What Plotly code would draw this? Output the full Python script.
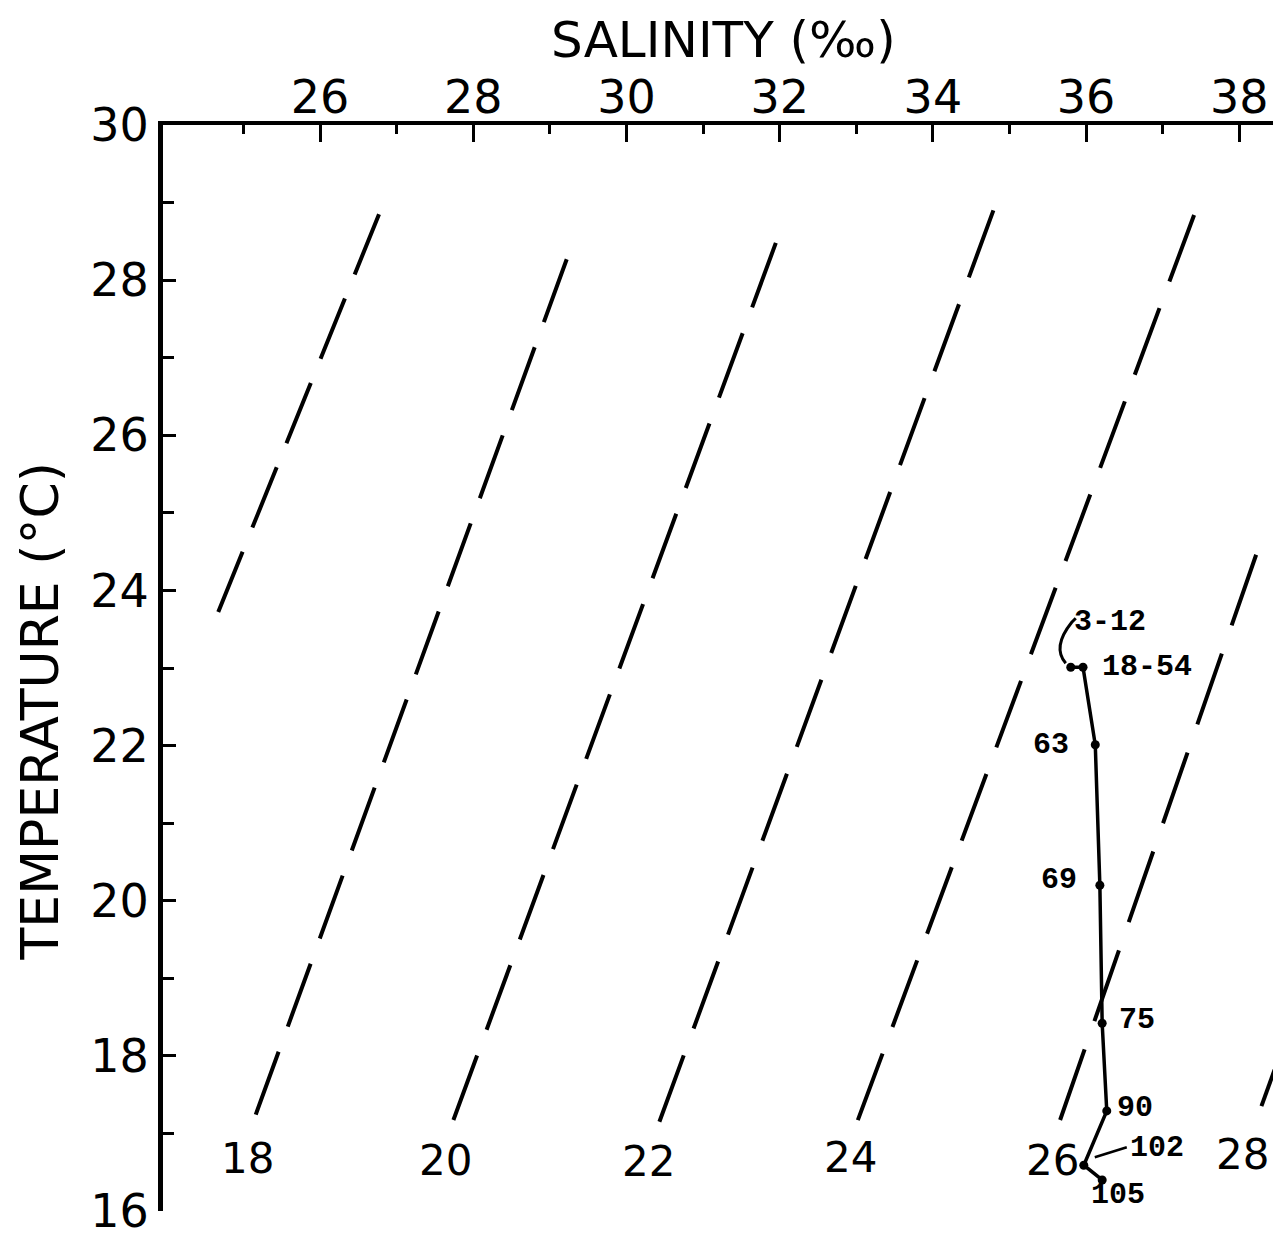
import math
import plotly.graph_objects as go

# ---- data ----
# sigma-t isolines (dashed): end points (salinity, temperature)
sigma_vals = [16, 18, 20, 22, 24, 26, 28]
sigma_s_top = [26.77, 29.22, 31.95, 34.79, 37.41, 38.22, 38.60]
sigma_t_top = [28.85, 28.27, 28.48, 28.90, 28.84, 24.46, 18.20]
sigma_s_bot = [24.67, 25.16, 27.74, 30.43, 33.02, 35.66, 38.27]
sigma_t_bot = [23.72, 17.24, 17.17, 17.15, 17.17, 17.17, 17.30]
sigma_labelled = [False, True, True, True, True, True, True]

# T-S station profile
depth_labels = ["3-12", "18-54", "63", "69", "75", "90", "102", "105"]
salinity = [35.80, 35.96, 36.12, 36.18, 36.21, 36.27, 35.97, 36.21]
temperature = [23.01, 23.01, 22.01, 20.20, 18.42, 17.29, 16.59, 16.40]

x_major = [26, 28, 30, 32, 34, 36, 38]
x_minor = [25, 27, 29, 31, 33, 35, 37]
y_major = [16, 18, 20, 22, 24, 26, 28, 30]
y_minor = [17, 19, 21, 23, 25, 27, 29]

# ---- styling ----
W, H = 1273, 1234
ML, MR, MT, MB = 163, 0, 125, 23
XR = [23.95, 38.44]
YR = [16, 30]
SANS = "DejaVu Sans"
MONO = "Liberation Mono"
label_offsets = {  # pixel offsets of depth labels from their points
    "3-12": (39, 45), "18-54": (64, 0), "63": (-44, 0), "69": (-41, 5),
    "75": (35, 3), "90": (28, 3), "102": (73, 17), "105": (16, -15),
}
sigma_label_shift = {16: (0, 0), 18: (-8, -44), 20: (-8, -40), 22: (-11, -40),
                     24: (-7, -37), 26: (-8, -40), 28: (-17, -44)}

px_x = (W - ML - MR) / (XR[1] - XR[0])
px_y = (H - MT - MB) / (YR[1] - YR[0])


def dash_for(s0, t0, s1, t1, dash=70.0, gap=28.0):
    """dash pattern so that the line starts and ends with a dash"""
    L = math.hypot((s1 - s0) * px_x, (t1 - t0) * px_y)
    n = max(1, round((L - dash) / (dash + gap)))
    k = L / (n * (dash + gap) + dash)
    return f"{dash * k:.1f}px,{gap * k:.1f}px"


fig = go.Figure()

for i, sv in enumerate(sigma_vals):
    if sv == 28:
        dstyle = "70px,28px"
    else:
        dstyle = dash_for(sigma_s_top[i], sigma_t_top[i], sigma_s_bot[i], sigma_t_bot[i])
    fig.add_trace(go.Scatter(
        x=[sigma_s_top[i], sigma_s_bot[i]], y=[sigma_t_top[i], sigma_t_bot[i]],
        mode="lines", line=dict(color="black", width=4, dash=dstyle),
        hoverinfo="skip", showlegend=False))
    if sigma_labelled[i]:
        dx, dy = sigma_label_shift[sv]
        fig.add_annotation(x=sigma_s_bot[i], y=sigma_t_bot[i], text=str(sv),
                           showarrow=False, xshift=dx, yshift=dy,
                           xanchor="center", yanchor="middle",
                           font=dict(family=SANS, size=42, color="black"))

fig.add_trace(go.Scatter(
    x=salinity, y=temperature, mode="lines+markers",
    line=dict(color="black", width=3.5), marker=dict(color="black", size=9),
    showlegend=False))

for lab, s, t in zip(depth_labels, salinity, temperature):
    dx, dy = label_offsets[lab]
    fig.add_annotation(x=s, y=t, text=lab, showarrow=False, xshift=dx, yshift=dy,
                       xanchor="center", yanchor="middle",
                       font=dict(family=MONO, size=30, color="black", weight="bold"))

# arc linking "3-12" label to its point
i312 = depth_labels.index("3-12")
fig.add_shape(type="path", xref="x", yref="y", xsizemode="pixel", ysizemode="pixel",
              xanchor=salinity[i312], yanchor=temperature[i312],
              path="M -5,4 Q -19,20 1,45 L 5,49",
              line=dict(color="black", width=3))
# leader for "102"
i102 = depth_labels.index("102")
fig.add_shape(type="line", xref="x", yref="y", xsizemode="pixel", ysizemode="pixel",
              xanchor=salinity[i102], yanchor=temperature[i102],
              x0=11, y0=8, x1=43, y1=18, line=dict(color="black", width=2.5))

# axis titles
fig.add_annotation(xref="paper", yref="paper", x=0.5054, y=1, yshift=85,
                   xanchor="center", yanchor="middle",
                   text="SALINITY (‰)", showarrow=False,
                   font=dict(family=SANS, size=50, color="black"))
fig.add_annotation(xref="paper", yref="paper", x=0, y=0.46, xshift=-123,
                   xanchor="center", yanchor="middle",
                   text="TEMPERATURE (°C)", showarrow=False, textangle=-90,
                   font=dict(family=SANS, size=52, color="black"))

fig.update_layout(
    width=W, height=H,
    margin=dict(l=ML, r=MR, t=MT, b=MB, autoexpand=False),
    paper_bgcolor="white", plot_bgcolor="white", showlegend=False,
    xaxis=dict(side="top", range=XR, tickvals=x_major, automargin=False,
               ticks="inside", ticklen=17, tickwidth=3, tickcolor="black",
               showline=True, linewidth=4, linecolor="black",
               showgrid=False, zeroline=False, ticklabelstandoff=-10,
               ticklabeloverflow="allow",
               tickfont=dict(family=SANS, size=46, color="black"),
               minor=dict(tickvals=x_minor, ticks="inside", ticklen=9,
                          tickwidth=3, tickcolor="black", showgrid=False)),
    yaxis=dict(range=YR, tickvals=y_major, automargin=False,
               ticks="inside", ticklen=13, tickwidth=3, tickcolor="black",
               showline=True, linewidth=5, linecolor="black",
               showgrid=False, zeroline=False, ticklabeloverflow="allow",
               tickfont=dict(family=SANS, size=46, color="black"),
               minor=dict(tickvals=y_minor, ticks="inside", ticklen=11,
                          tickwidth=3, tickcolor="black", showgrid=False)),
)

fig.write_html("out.html")
